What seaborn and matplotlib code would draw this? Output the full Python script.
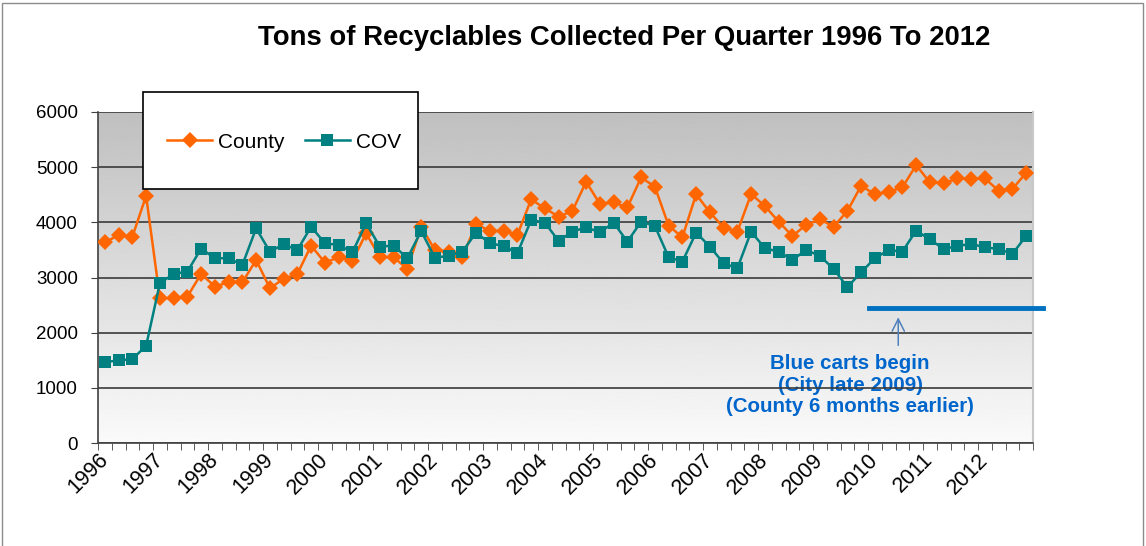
import numpy as np
import pandas as pd
import matplotlib
matplotlib.use("Agg")
import matplotlib.pyplot as plt
from matplotlib.patches import Rectangle
import seaborn as sns

# quarterly tons, 1996 Q1 .. 2012 Q4
county = [3640, 3765, 3740, 4480, 2625, 2625, 2655, 3065, 2836, 2914, 2914, 3318,
          2806, 2975, 3065, 3578, 3270, 3367, 3300, 3801, 3367, 3367, 3156, 3920,
          3499, 3470, 3367, 3970, 3843, 3843, 3771, 4416, 4253, 4103, 4205, 4736,
          4332, 4362, 4271, 4814, 4645, 3940, 3729, 4507, 4181, 3904, 3831, 4513,
          4296, 4012, 3753, 3952, 4054, 3922, 4205, 4663, 4507, 4555, 4633, 5037,
          4724, 4706, 4796, 4784, 4796, 4573, 4603, 4899]
cov = [1467, 1497, 1521, 1762, 2896, 3065, 3107, 3524, 3349, 3349, 3228, 3891,
       3469, 3602, 3499, 3922, 3620, 3590, 3457, 3982, 3560, 3578, 3349, 3843,
       3361, 3391, 3469, 3813, 3620, 3572, 3439, 4042, 3994, 3662, 3831, 3910,
       3819, 3994, 3650, 4012, 3934, 3367, 3288, 3813, 3560, 3258, 3168, 3831,
       3530, 3469, 3318, 3499, 3391, 3156, 2824, 3095, 3349, 3499, 3469, 3849,
       3692, 3517, 3572, 3608, 3548, 3517, 3427, 3753]
years = [str(y) for y in range(1996, 2013)]
quarter = np.arange(len(county))

df = pd.DataFrame({"q": quarter, "County": county, "COV": cov})

plt.rcParams['font.family'] = ['Liberation Sans', 'DejaVu Sans']

fig = plt.figure(figsize=(11.46, 5.46), dpi=100)
ax = fig.add_axes([98/1146, 1-443/546, 935/1146, 331/546])

# grey gradient plot background
grad = np.linspace(0.98, 0.75, 256).reshape(-1, 1)
ax.imshow(grad, extent=[0, 1, 0, 1], transform=ax.transAxes, aspect="auto",
          cmap="gray", vmin=0, vmax=1, origin="lower", zorder=-10)

sns.lineplot(data=df, x="q", y="County", ax=ax, color="#FF6600", marker="D",
             markersize=8.5, markeredgewidth=0, lw=1.8, label="County", zorder=3)
sns.lineplot(data=df, x="q", y="COV", ax=ax, color="#008080", marker="s",
             markersize=9, markeredgewidth=0, lw=1.8, label="COV", zorder=4)
handles, labels = ax.get_legend_handles_labels()
ax.get_legend().remove()

ax.set_xlim(-0.5, len(county) - 0.5)
ax.set_ylim(0, 6000)
ax.set_yticks(range(0, 6001, 1000))
ax.set_xticks(np.arange(0, len(county), 4))
ax.set_xticklabels(years, rotation=45, ha="right", va="center",
                   rotation_mode="anchor", fontsize=15.5)
ax.set_xticks(np.arange(-0.5, len(county) + 0.5, 1), minor=True)
ax.tick_params(axis="x", which="major", length=0, pad=10)
ax.tick_params(axis="x", which="minor", length=5, color="#404040", direction="out")
ax.tick_params(axis="y", length=5, color="#404040", direction="out", labelsize=13.5, pad=9.5)
ax.set_xlabel("")
ax.set_ylabel("")
ax.set_axisbelow(True)
ax.yaxis.grid(True, color="#3a3a3a", lw=1.2)
for s in ["left", "bottom"]:
    ax.spines[s].set_color("#404040")
    ax.spines[s].set_linewidth(1.2)
ax.spines["top"].set_visible(False)
ax.spines["right"].set_color("#c8c8c8")
ax.spines["right"].set_linewidth(1.5)

# blue carts annotation
ax.plot([55.6, 68.2], [2445, 2445], color="#0070C0", lw=3.5, clip_on=False, zorder=5)
ax.annotate("", xy=(57.7, 2330), xytext=(57.7, 1720),
            arrowprops=dict(arrowstyle="->", color="#4F81BD", lw=1.1, mutation_scale=22))
ax.text(54.2, 1050, "Blue carts begin\n(City late 2009)\n(County 6 months earlier)",
        ha="center", va="center", multialignment="center", color="#0066CC",
        fontsize=14.8, fontweight="bold", linespacing=1.15, zorder=0.3)

fig.suptitle("Tons of Recyclables Collected Per Quarter 1996 To 2012",
             x=624/1146, y=1-38/546, va="center", fontsize=19.8, fontweight="bold")

# legend box + legend
fig.patches.append(Rectangle((143/1146, 1-189/546), 275/1146, 97/546,
                             transform=fig.transFigure, facecolor="white",
                             edgecolor="black", lw=1.2, zorder=1))
fig.legend(handles, labels, loc="center left", bbox_to_anchor=(157/1146, 1-142/546),
           ncol=2, frameon=False, fontsize=15, borderpad=0, handlelength=2.15,
           handletextpad=0.3, columnspacing=0.95)

# outer chart border
fig.patches.append(Rectangle((2/1146, -0.1), 1141/1146, 1.1 - 3/546,
                             transform=fig.transFigure, facecolor="none",
                             edgecolor="#8c8c8c", lw=1, zorder=0))

fig.savefig("out.png", dpi=100)
